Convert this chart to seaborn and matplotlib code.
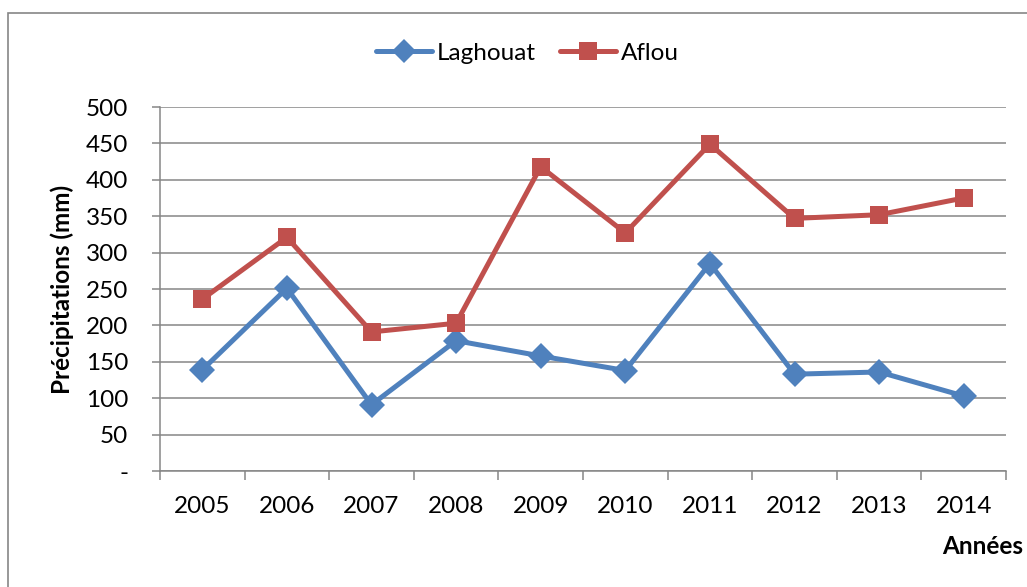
import matplotlib
matplotlib.use("Agg")
import matplotlib.pyplot as plt
import matplotlib.patches as mpatches
from matplotlib.ticker import FixedLocator, FixedFormatter
import seaborn as sns
import pandas as pd

# ---- data ----
years = [2005, 2006, 2007, 2008, 2009, 2010, 2011, 2012, 2013, 2014]
laghouat = [139, 251, 91, 179, 158, 138, 285, 133, 136, 103]
aflou = [236, 321, 191, 203, 418, 327, 449, 347, 352, 375]
series_names = ["Laghouat", "Aflou"]
y_ticks = [0, 50, 100, 150, 200, 250, 300, 350, 400, 450, 500]
y_tick_labels = ["-", "50", "100", "150", "200", "250", "300", "350", "400", "450", "500"]
y_label = "Précipitations (mm)"
x_label = "Années"

df = pd.DataFrame({
    "Année": years * 2,
    "Valeur": laghouat + aflou,
    "Station": [series_names[0]] * len(years) + [series_names[1]] * len(years),
})

sns.set_theme(style="white")
plt.rcParams["font.family"] = ["Lato", "DejaVu Sans"]
plt.rcParams["text.color"] = "black"
plt.rcParams["xtick.color"] = "black"
plt.rcParams["ytick.color"] = "black"

FS = 17.5
LFS = 17.5
GRID = "#868686"
BLUE = "#4F81BD"
RED = "#C0504D"

fig = plt.figure(figsize=(10.27, 5.87), dpi=100)
ax = fig.add_axes([160 / 1027, 1 - 471 / 587, (1006 - 160) / 1027, (471 - 107) / 587])

sns.lineplot(
    data=df, x="Année", y="Valeur", hue="Station", style="Station",
    palette={"Laghouat": BLUE, "Aflou": RED},
    markers={"Laghouat": "D", "Aflou": "s"}, dashes=False,
    linewidth=3.6, markersize=13, markeredgewidth=0, ax=ax, zorder=3,
)

ax.set_xlim(years[0] - 0.5, years[-1] + 0.5)
ax.set_ylim(0, 500)

# y axis
ax.yaxis.set_major_locator(FixedLocator(y_ticks))
ax.yaxis.set_major_formatter(FixedFormatter(y_tick_labels))
ax.tick_params(axis="y", which="major", direction="out", length=6, width=1.1,
               color=GRID, labelcolor="black", pad=17, labelsize=FS, left=True)
ax.grid(axis="y", color=GRID, linewidth=1.1)
ax.grid(axis="x", visible=False)

# x axis: labels at years, tick marks at boundaries
ax.xaxis.set_major_locator(FixedLocator(years))
ax.xaxis.set_major_formatter(FixedFormatter([str(y) for y in years]))
ax.xaxis.set_minor_locator(FixedLocator([y - 0.5 for y in years] + [years[-1] + 0.5]))
ax.tick_params(axis="x", which="major", length=0, pad=18, labelsize=FS,
               labelcolor="black", bottom=True)
ax.tick_params(axis="x", which="minor", direction="out", length=6.5, width=1.1,
               color=GRID, bottom=True)

for s in ["top", "right"]:
    ax.spines[s].set_visible(False)
for s in ["left", "bottom"]:
    ax.spines[s].set_color(GRID)
    ax.spines[s].set_linewidth(1.1)

ax.set_xlabel("")
ax.set_ylabel("")

# legend
handles, labels = ax.get_legend_handles_labels()
leg = ax.legend(handles, labels, loc="center", bbox_to_anchor=(527.5 / 1027, 1 - 53 / 587),
                bbox_transform=fig.transFigure, ncol=2, frameon=False, fontsize=FS,
                handlelength=2.3, handletextpad=0.2, columnspacing=1.0, markerscale=0.95)
for t in leg.get_texts():
    t.set_color("black")

fig.text(62 / 1027, 1 - 289 / 587, y_label, rotation=90, ha="center", va="center",
         fontsize=LFS, fontweight="bold", color="black")
fig.text(1023 / 1027, 1 - 547 / 587, x_label, ha="right", va="center",
         fontsize=LFS, fontweight="bold", color="black")

# chart border (partially cropped)
border = mpatches.Rectangle((8 / 1027, -0.5), 2.0, 0.5 + (1 - 13 / 587),
                            transform=fig.transFigure, fill=False,
                            edgecolor=GRID, linewidth=1.2, clip_on=False)
fig.patches.append(border)

fig.savefig("out.png", dpi=100)
